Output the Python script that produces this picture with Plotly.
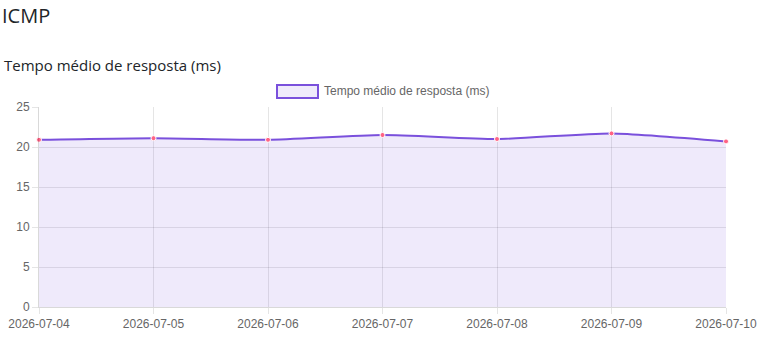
import plotly.graph_objects as go

dates = ["2026-07-04", "2026-07-05", "2026-07-06", "2026-07-07", "2026-07-08", "2026-07-09", "2026-07-10"]
resp_ms = [20.9, 21.1, 20.9, 21.5, 21.0, 21.7, 20.7]
y_ticks = [0, 5, 10, 15, 20, 25]
series_name = "Tempo médio de resposta (ms)"

LINE = "#7a50dc"
FILL = "rgba(122,80,220,0.12)"
GRID = "rgba(0,0,0,0.1)"
TICKC = "#666666"

fig = go.Figure()
fig.add_trace(go.Scatter(
    x=dates, y=resp_ms, mode="lines+markers", name=series_name,
    line=dict(color=LINE, width=2, shape="spline", smoothing=0.6),
    fill="tozeroy", fillcolor=FILL,
    marker=dict(size=5, color="#ff6384", line=dict(color="white", width=1)),
    cliponaxis=False, showlegend=False,
))

fig.update_layout(
    width=769, height=347,
    margin=dict(l=39, r=43, t=107, b=40, autoexpand=False),
    paper_bgcolor="white", plot_bgcolor="white",
    font=dict(family="Liberation Sans, Arial, sans-serif", size=12, color=TICKC),
    xaxis=dict(type="category", range=[0, 6], showgrid=True, gridcolor=GRID,
               showline=True, linecolor="rgba(0,0,0,0.15)", ticks="outside",
               ticklen=6, tickcolor=GRID, tickfont=dict(size=12, color=TICKC),
               zeroline=False, fixedrange=True, automargin=False),
    yaxis=dict(range=[0, 25], tickvals=y_ticks, showgrid=True, gridcolor=GRID,
               showline=True, linecolor="rgba(0,0,0,0.15)", ticks="outside",
               ticklen=6, tickcolor=GRID, tickfont=dict(size=12, color=TICKC),
               zeroline=False, mirror=False, fixedrange=True, automargin=False),
    shapes=[dict(type="rect", xref="paper", yref="paper",
                 x0=(277 - 39) / 687, x1=(318 - 39) / 687,
                 y0=(307 - 98) / 200, y1=(307 - 85) / 200,
                 line=dict(color=LINE, width=2), fillcolor=FILL)],
    annotations=[
        dict(text="ICMP", xref="paper", yref="paper",
             x=-39 / 687, y=(307 - 15) / 200, xanchor="left", yanchor="middle",
             showarrow=False, font=dict(family="Open Sans, Noto Sans, sans-serif", size=20, color="#212529")),
        dict(text=series_name, xref="paper", yref="paper",
             x=-37 / 687, y=(307 - 65) / 200, xanchor="left", yanchor="middle",
             showarrow=False, font=dict(family="Open Sans, Noto Sans, sans-serif", size=15, color="#212529")),
        dict(text=series_name, xref="paper", yref="paper",
             x=(322 - 39) / 687, y=(307 - 91) / 200, xanchor="left", yanchor="middle",
             showarrow=False, font=dict(size=12, color=TICKC)),
    ],
)

fig.write_html("out.html")
